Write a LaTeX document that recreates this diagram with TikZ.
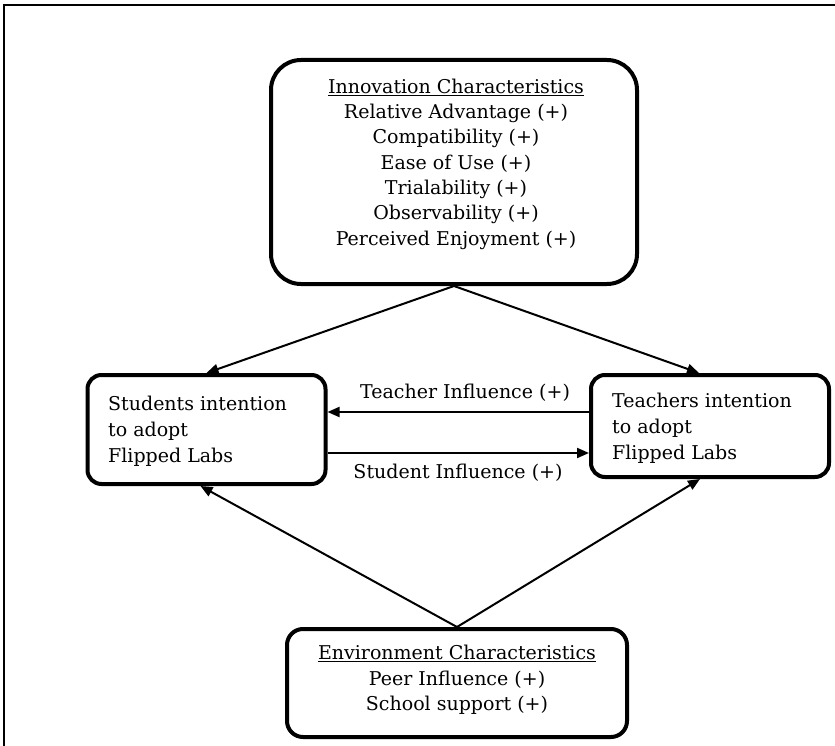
\documentclass[tikz,border=0pt]{standalone}
\usepackage{fontspec}
\setmainfont{DejaVu Serif}
\usetikzlibrary{arrows.meta}
\begin{document}
\begin{tikzpicture}[x=1pt,y=-1pt,
  box/.style={draw, line width=4pt, rounded corners=#1, inner sep=0pt},
  txtc/.style={font=\fontsize{19}{25.3}\selectfont, align=center, inner sep=0pt},
  txtl/.style={font=\fontsize{19}{26.2}\selectfont, align=left, inner sep=0pt, anchor=west},
  lbl/.style={font=\fontsize{19}{24}\selectfont, inner sep=0pt},
  arr/.style={line width=2pt, -{Triangle[length=12pt,width=10pt]}},
]
\useasboundingbox (0,0) rectangle (835,746);
\draw[line width=2.8pt] (4,746) -- (4,5) -- (835,5);

\node[box=30pt, minimum width=366pt, minimum height=224pt] (inno) at (454,172) {};
\node[txtc] (innot) at (456,164) {\underline{Innovation Characteristics}\\Relative Advantage (+)\\Compatibility (+)\\Ease of Use (+)\\Trialability (+)\\Observability (+)\\Perceived Enjoyment (+)};

\node[box=14pt, minimum width=238pt, minimum height=109pt] (stud) at (206.5,429.5) {};
\node[txtl] (studt) at (108,431) {Students intention\\to adopt\\Flipped Labs};

\node[box=14pt, minimum width=238pt, minimum height=102pt] (teach) at (710,426) {};
\node[txtl] (teacht) at (612,428) {Teachers intention\\to adopt\\Flipped Labs};

\node[box=16pt, minimum width=340pt, minimum height=108pt] (env) at (457,683) {};
\node[txtc] (envt) at (457,680) {\underline{Environment Characteristics}\\Peer Influence (+)\\School support (+)};

\coordinate (ty) at (0,412);
\coordinate (sy) at (0,453);
\draw[arr] (teach.west |- ty) -- (stud.east |- ty);
\draw[arr] (stud.east |- sy) -- (teach.west |- sy);
\node[lbl] (tl) at (465,393) {Teacher Influence (+)};
\node[lbl] (sl) at (458,473) {Student Influence (+)};

\draw[arr] (inno.south) -- (stud.north);
\draw[arr] (inno.south) -- ([xshift=-11pt]teach.north);
\draw[arr] (env.north) -- ([xshift=-6pt]stud.south);
\draw[arr] (env.north) -- ([xshift=-10pt]teach.south);
\end{tikzpicture}
\end{document}
